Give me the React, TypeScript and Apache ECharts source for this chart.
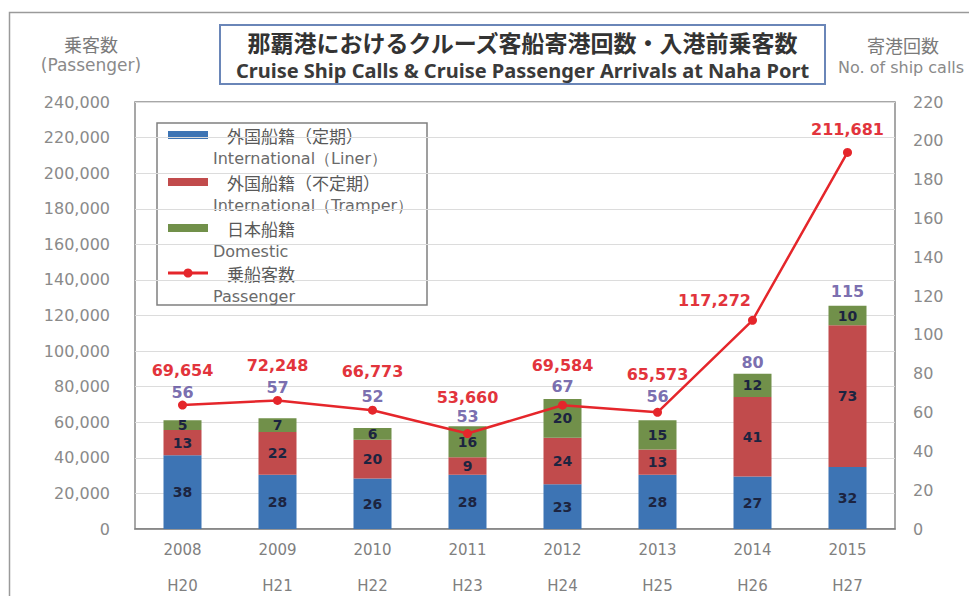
import React, { useEffect, useRef } from "react";
import * as echarts from "echarts";

const categories = ["2008", "2009", "2010", "2011", "2012", "2013", "2014", "2015"];
const eraLabels = ["H20", "H21", "H22", "H23", "H24", "H25", "H26", "H27"];
const linerCalls = [38, 28, 26, 28, 23, 28, 27, 32];
const tramperCalls = [13, 22, 20, 9, 24, 13, 41, 73];
const domesticCalls = [5, 7, 6, 16, 20, 15, 12, 10];
const passengers = [69654, 72248, 66773, 53660, 69584, 65573, 117272, 211681];
const leftTicks = { min: 0, max: 240000, interval: 20000 };
const rightTicks = { min: 0, max: 220, interval: 20 };

// label placement styling (not data)
const totalLabelLift = [20, 23, 24, 2, 4, 16, 3, 6];
const passengerLabelLift = [22, 22, 26, 24, 27, 25, 7, 10];

const seriesNames = {
  liner: ["外国船籍（定期）", "International（Liner）"],
  tramper: ["外国船籍（不定期）", "International（Tramper）"],
  domestic: ["日本船籍", "Domestic"],
  passenger: ["乗船客数", "Passenger"],
};

const BLUE = "#3d74b4";
const RED = "#c14b4c";
const GREEN = "#71904a";
const LINE_RED = "#e5262b";
const FONT = "DejaVu Sans";
const CJK = "Noto Sans CJK JP";

export default function App() {
  const ref = useRef<HTMLDivElement>(null);
  useEffect(() => {
    if (!ref.current) return;
    const chart = echarts.init(ref.current, null, { renderer: "svg" });
    const totals = linerCalls.map((v, i) => v + tramperCalls[i] + domesticCalls[i]);

    const legendRows = [
      { key: "liner", color: BLUE, y: 135 },
      { key: "tramper", color: RED, y: 182 },
      { key: "domestic", color: GREEN, y: 228 },
      { key: "passenger", color: LINE_RED, y: 273 },
    ];
    const legendEls: any[] = [
      {
        type: "rect",
        shape: { x: 157, y: 123, width: 270, height: 182 },
        style: { fill: "#ffffff", stroke: "#808080", lineWidth: 1.5 },
      },
    ];
    legendRows.forEach((r) => {
      const names = (seriesNames as any)[r.key];
      if (r.key === "passenger") {
        legendEls.push({
          type: "line",
          shape: { x1: 168, y1: r.y, x2: 208, y2: r.y },
          style: { stroke: r.color, lineWidth: 3 },
        });
        legendEls.push({
          type: "circle",
          shape: { cx: 188, cy: r.y, r: 4.5 },
          style: { fill: r.color },
        });
      } else {
        legendEls.push({
          type: "rect",
          shape: { x: 168, y: r.y - 4, width: 40, height: 8 },
          style: { fill: r.color },
        });
      }
      legendEls.push({
        type: "text",
        style: {
          text: names[0], x: 227, y: r.y, font: `17px "${CJK}"`, fill: "#595959",
          textAlign: "left", textVerticalAlign: "middle", align: "left", verticalAlign: "middle",
        },
      });
      legendEls.push({
        type: "text",
        style: {
          text: names[1], x: 213, y: r.y + 23, font: `16px "${FONT}"`, fill: "#6a6a6a",
          textAlign: "left", textVerticalAlign: "middle", align: "left", verticalAlign: "middle",
        },
      });
    });

    const txt = (text: string, x: number, y: number, font: string, fill: string, align = "center") => ({
      type: "text",
      style: {
        text, x, y, font, fill,
        textAlign: align, textVerticalAlign: "middle", align, verticalAlign: "middle",
      },
    });

    chart.setOption({
      animation: false,
      backgroundColor: "#ffffff",
      textStyle: { fontFamily: FONT },
      grid: {
        left: 135, right: 74, top: 102, bottom: 67,
        show: true, borderColor: "#8a8a8a", borderWidth: 1.5, backgroundColor: "transparent",
      },
      xAxis: {
        type: "category",
        data: categories,
        axisTick: { show: false },
        axisLine: { lineStyle: { color: "#7f7f7f", width: 1.5 } },
        axisLabel: {
          margin: 9,
          formatter: (v: string, i: number) => `{a|${v}}\n{b|${eraLabels[i]}}`,
          rich: {
            a: { fontFamily: FONT, fontSize: 15, color: "#808080", lineHeight: 24 },
            b: { fontFamily: FONT, fontSize: 15, color: "#808080", lineHeight: 48 },
          },
        },
      },
      yAxis: [
        {
          type: "value",
          min: leftTicks.min, max: leftTicks.max, interval: leftTicks.interval,
          axisLine: { show: false },
          axisTick: { show: false },
          splitLine: { lineStyle: { color: "#dcdcdc", width: 1 } },
          axisLabel: {
            margin: 25, color: "#8a8a8a", fontSize: 16, fontFamily: FONT,
            formatter: (v: number) => v.toLocaleString("en-US"),
          },
        },
        {
          type: "value",
          min: rightTicks.min, max: rightTicks.max, interval: rightTicks.interval,
          axisLine: { show: false },
          axisTick: { show: false },
          splitLine: { show: false },
          axisLabel: { margin: 18, color: "#8a8a8a", fontSize: 16, fontFamily: FONT },
        },
      ],
      series: [
        {
          name: seriesNames.liner[0], type: "bar", stack: "calls", yAxisIndex: 1, barWidth: 38,
          itemStyle: { color: BLUE }, data: linerCalls,
          label: { show: true, position: "inside", fontFamily: FONT, fontWeight: "bold", fontSize: 14, color: "#1c2440" },
        },
        {
          name: seriesNames.tramper[0], type: "bar", stack: "calls", yAxisIndex: 1, barWidth: 38,
          itemStyle: { color: RED }, data: tramperCalls,
          label: { show: true, position: "inside", fontFamily: FONT, fontWeight: "bold", fontSize: 14, color: "#1c2440" },
        },
        {
          name: seriesNames.domestic[0], type: "bar", stack: "calls", yAxisIndex: 1, barWidth: 38,
          itemStyle: { color: GREEN }, data: domesticCalls,
          label: { show: true, position: "inside", fontFamily: FONT, fontWeight: "bold", fontSize: 14, color: "#1c2440" },
        },
        {
          name: "total", type: "scatter", yAxisIndex: 1, symbolSize: 0, silent: true, z: 5,
          data: totals.map((t, i) => ({ value: t, label: { distance: totalLabelLift[i] } })),
          label: { show: true, position: "top", fontFamily: FONT, fontWeight: "bold", fontSize: 16, color: "#58489a" },
        },
        {
          name: seriesNames.passenger[0], type: "line", yAxisIndex: 0, z: 4,
          symbol: "circle", symbolSize: 9,
          lineStyle: { color: LINE_RED, width: 2.5 },
          itemStyle: { color: LINE_RED },
          data: passengers.map((p, i) => ({
            value: p,
            label: i === 6
              ? { distance: passengerLabelLift[i], offset: [-38, 0] }
              : { distance: passengerLabelLift[i] },
          })),
          label: {
            show: true, position: "top", fontFamily: FONT, fontWeight: "bold", fontSize: 16, color: "#e2343c",
            formatter: (p: any) => Number(p.value).toLocaleString("en-US"),
          },
        },
      ],
      graphic: [
        {
          type: "rect", silent: true,
          shape: { x: 9.5, y: 12.5, width: 1000, height: 1000 },
          style: { fill: "none", stroke: "#9a9a9a", lineWidth: 1.5 },
        },
        {
          type: "rect",
          shape: { x: 220, y: 25, width: 605, height: 59 },
          style: { fill: "#ffffff", stroke: "#6a86b8", lineWidth: 2 },
        },
        txt("那覇港におけるクルーズ客船寄港回数・入港前乗客数", 522.5, 42, `bold 23px "${CJK}"`, "#333333"),
        txt("Cruise Ship Calls & Cruise Passenger Arrivals at Naha Port", 522.5, 70, `bold 20px "Noto Sans"`, "#3a3a3a"),
        txt("乗客数", 91, 44, `18px "${CJK}"`, "#7a7a7a"),
        txt("(Passenger)", 91, 65, `17px "${FONT}"`, "#8a8a8a"),
        txt("寄港回数", 903, 45, `18px "${CJK}"`, "#7a7a7a"),
        txt("No. of ship calls", 838, 67, `16px "${FONT}"`, "#8a8a8a", "left"),
        ...legendEls,
      ],
    });
    return () => chart.dispose();
  }, []);
  return <div ref={ref} style={{ position: "fixed", left: 0, top: 0, width: 969, height: 596 }} />;
}
